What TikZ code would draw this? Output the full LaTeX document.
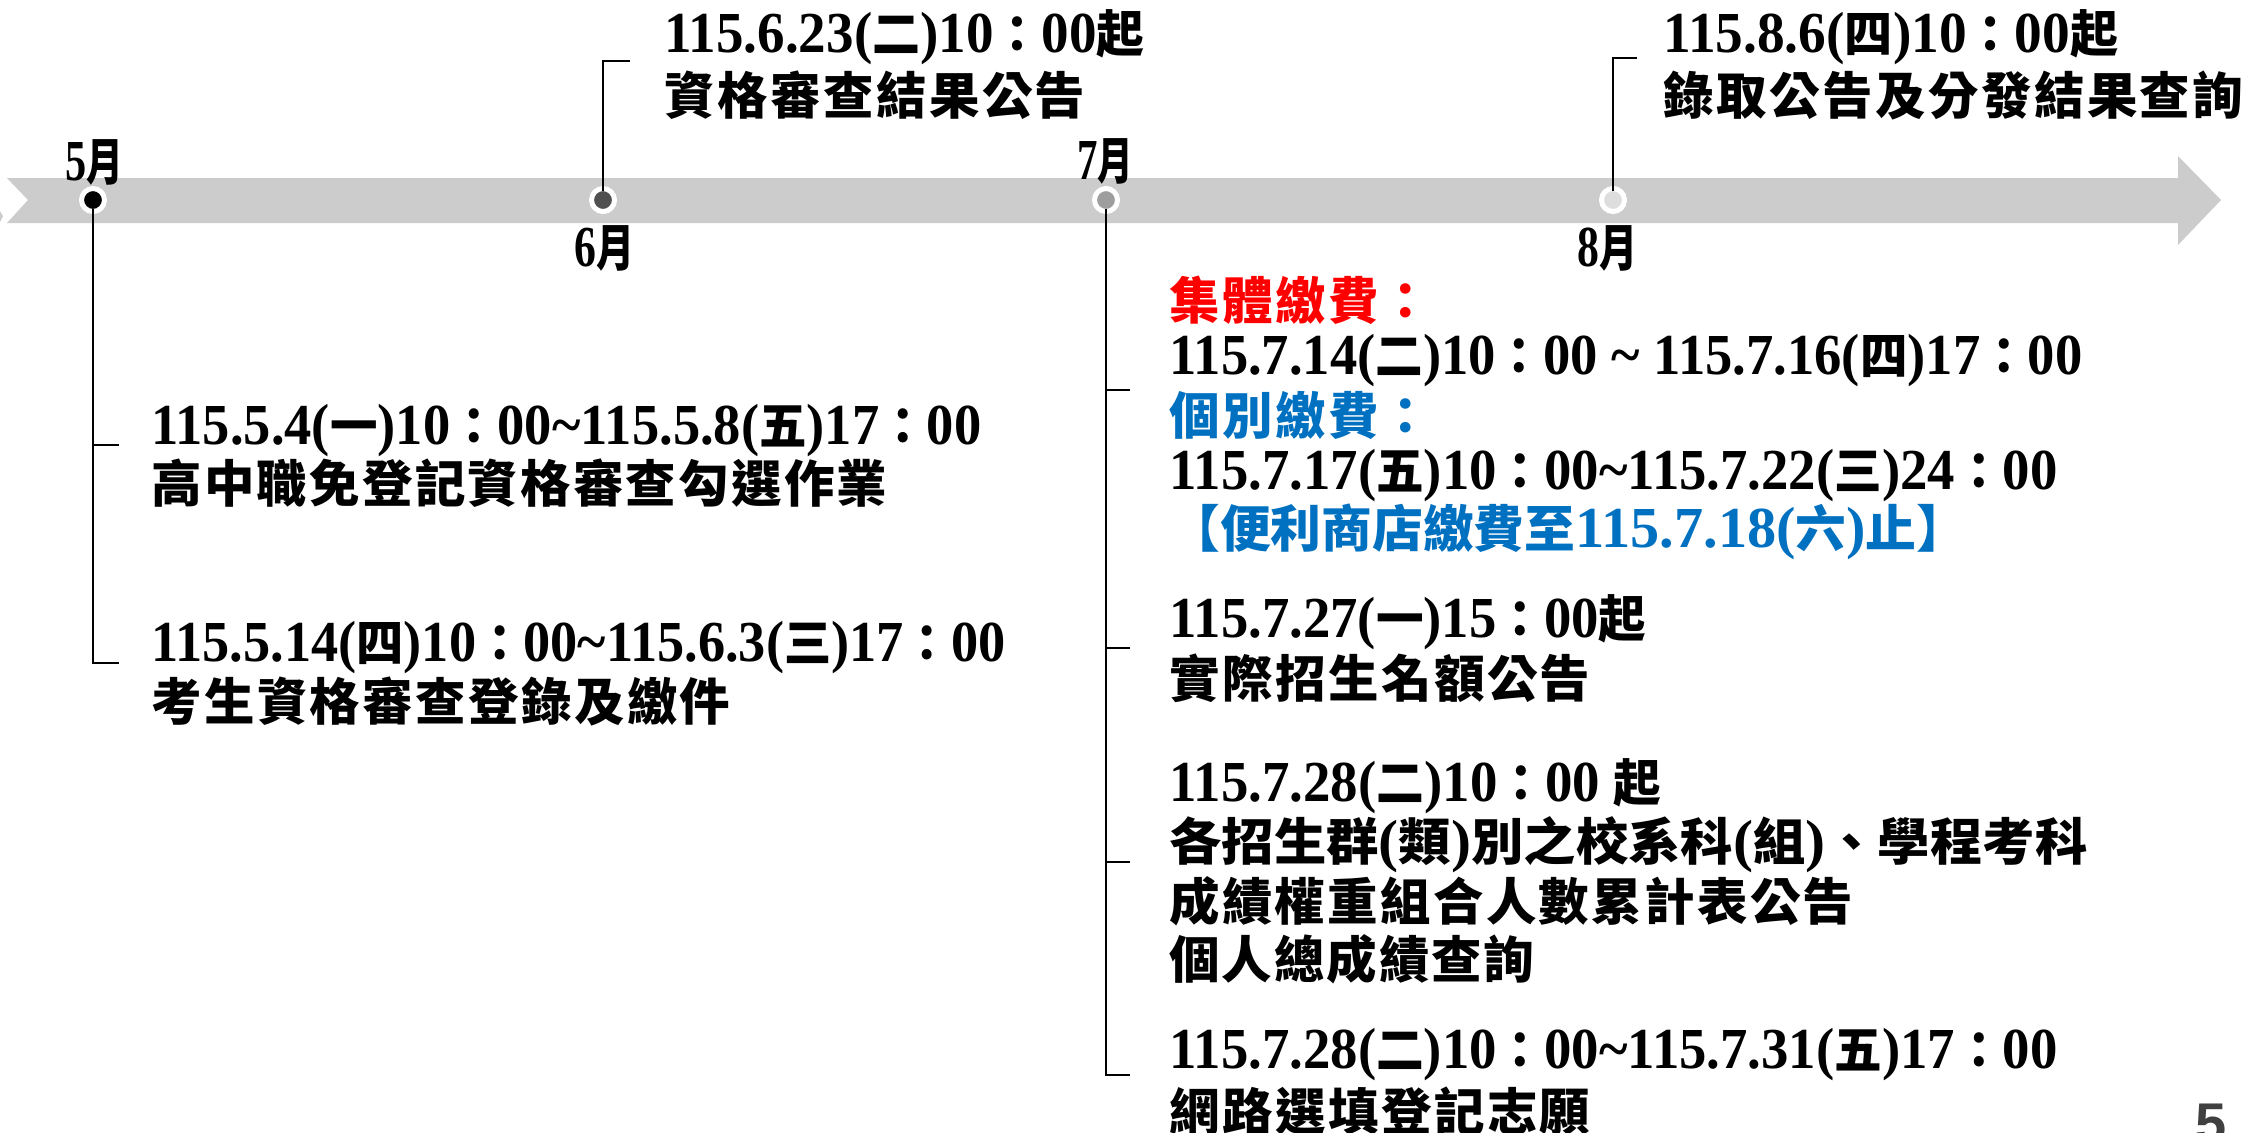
\documentclass[tikz,border=0pt]{standalone}
\usepackage{fontspec}
\usepackage{graphicx}
\setmainfont{Liberation Serif}
\newfontfamily\cjk{Noto Sans CJK TC}[Scale=0.87]
\newfontfamily\pgfont{Liberation Sans}
\newdimen\px \px=0.5pt
\newcommand\zh[1]{{\cjk #1}}
\newcommand\fw[2]{\resizebox{#1\px}{\height}{#2}}
\def\spreadchars#1{\spreadA#1\relax}
\def\spreadA#1{\ifx#1\relax\else#1\expandafter\spreadB\fi}
\def\spreadB#1{\ifx#1\relax\else\hfill#1\expandafter\spreadB\fi}
\newcommand\zs[2]{\hbox to #1\px{\cjk\spreadchars{#2}}}
\newcommand\lat{\fontsize{29}{29}\selectfont\bfseries}
\definecolor{band}{RGB}{204,204,204}
\definecolor{red1}{RGB}{255,0,0}
\definecolor{blue1}{RGB}{0,112,192}
\definecolor{dot6}{RGB}{80,80,80}
\definecolor{dot7}{RGB}{158,158,158}
\definecolor{dot8}{RGB}{221,221,221}
\definecolor{pgnum}{RGB}{64,64,64}
\begin{document}
\begin{tikzpicture}[x=0.5pt,y=-0.5pt,
  conn/.style={line width=1.1pt, black},
  dot/.style={circle, minimum size=11.5pt, inner sep=0pt, draw=white, line width=2.5pt},
  txt/.style={anchor=base west, inner sep=0pt, font=\lat}]
\useasboundingbox (0,0) rectangle (2254,1132);
\fill[white] (0,0) rectangle (2254,1132);
% timeline band
\fill[band] (7,178) -- (2178,178) -- (2178,156) -- (2221,200) -- (2178,245) -- (2178,223) -- (7,223) -- (28,200) -- cycle;
\fill[band] (0,211) -- (3,216) -- (0,222) -- cycle;
% dots
\node[dot, fill=black] (d5) at (93,200) {};
\node[dot, fill=dot6] (d6) at (603,200) {};
\node[dot, fill=dot7] (d7) at (1106,200) {};
\node[dot, fill=dot8] (d8) at (1613,200) {};
% tick ends
\coordinate (k51) at (119,445);
\coordinate (k52) at (119,663);
\coordinate (k6) at (630,61);
\coordinate (k8) at (1637,58);
\coordinate (k71) at (1130,390);
\coordinate (k72) at (1130,648);
\coordinate (k73) at (1130,862);
\coordinate (k74) at (1130,1075);
% connectors
\draw[conn] ([yshift=-4.5pt]d5.center) |- (k52);
\draw[conn] (k51) -- (k51 -| d5.center);
\draw[conn] ([yshift=4.5pt]d6.center) |- (k6);
\draw[conn] ([yshift=4.5pt]d8.center) |- (k8);
\draw[conn] ([yshift=-4.5pt]d7.center) |- (k74);
\draw[conn] (k71) -- (k71 -| d7.center);
\draw[conn] (k72) -- (k72 -| d7.center);
\draw[conn] (k73) -- (k73 -| d7.center);
% month labels
\node[txt] (m5) at (65,180) {\fw{58}{5\zh{月}}};
\node[txt] (m6) at (574,266) {\fw{60}{6\zh{月}}};
\node[txt] (m7) at (1077,179) {\fw{56}{7\zh{月}}};
\node[txt] (m8) at (1577,266) {\fw{60}{8\zh{月}}};
% top texts
\node[txt] (a1) at (664,52) {\fw{480}{115.6.23(\zh{二})10\zh{：}00\zh{起}}};
\node[txt] (a2) at (664,114) {\zs{421}{資格審查結果公告}};
\node[txt] (b1) at (1663,52) {\fw{455}{115.8.6(\zh{四})10\zh{：}00\zh{起}}};
\node[txt] (b2) at (1663,114) {\zs{580}{錄取公告及分發結果查詢}};
% left block
\node[txt] (c1) at (151,444) {\fw{830}{115.5.4(\zh{一})10\zh{：}00\textasciitilde115.5.8(\zh{五})17\zh{：}00}};
\node[txt] (c2) at (151,502) {\zs{736}{高中職免登記資格審查勾選作業}};
\node[txt] (c3) at (151,661) {\fw{854}{115.5.14(\zh{四})10\zh{：}00\textasciitilde115.6.3(\zh{三})17\zh{：}00}};
\node[txt] (c4) at (151,720) {\zs{579}{考生資格審查登錄及繳件}};
% right block
\node[txt, text=red1] (e1) at (1169,319) {\zs{262}{集體繳費：}};
\node[txt] (e2) at (1169,374) {\fw{913}{115.7.14(\zh{二})10\zh{：}00 \textasciitilde{} 115.7.16(\zh{四})17\zh{：}00}};
\node[txt, text=blue1] (e3) at (1169,434) {\zs{262}{個別繳費：}};
\node[txt] (e4) at (1169,489) {\fw{888}{115.7.17(\zh{五})10\zh{：}00\textasciitilde115.7.22(\zh{三})24\zh{：}00}};
\node[txt, text=blue1] (e5) at (1169,547) {\fw{798}{\zh{【便利商店繳費至}115.7.18(\zh{六})\zh{止】}}};
\node[txt] (f1) at (1169,637) {\fw{477}{115.7.27(\zh{一})15\zh{：}00\zh{起}}};
\node[txt] (f2) at (1169,697) {\zs{421}{實際招生名額公告}};
\node[txt] (f3) at (1169,801) {\fw{492}{115.7.28(\zh{二})10\zh{：}00 \zh{起}}};
\node[txt] (f4) at (1169,860) {\fw{918}{\zh{各招生群}(\zh{類})\zh{別之校系科}(\zh{組})\zh{、學程考科}}};
\node[txt] (f5) at (1169,920) {\zs{684}{成績權重組合人數累計表公告}};
\node[txt] (f6) at (1169,978) {\zs{365}{個人總成績查詢}};
\node[txt] (f7) at (1169,1068) {\fw{888}{115.7.28(\zh{二})10\zh{：}00\textasciitilde115.7.31(\zh{五})17\zh{：}00}};
\node[txt] (f8) at (1169,1130) {\zs{421}{網路選填登記志願}};
% page number
\node[anchor=base west, inner sep=0pt, text=pgnum, font=\pgfont\bfseries\fontsize{28}{28}\selectfont] (pg) at (2195,1142) {5};
\end{tikzpicture}
\end{document}
